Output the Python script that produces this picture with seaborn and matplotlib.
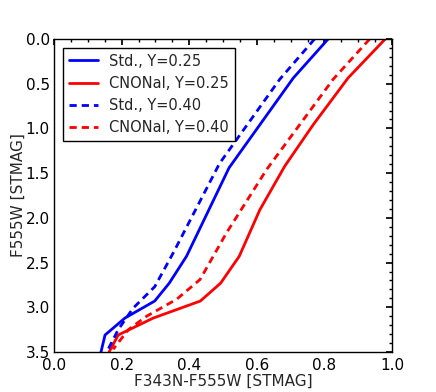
"""
Isochrone lower main sequence: F555W vs F343N-F555W for two abundance mixes
and two helium fractions.
"""
import numpy as np
import pandas as pd
import matplotlib
matplotlib.use("Agg")
import matplotlib.pyplot as plt
from matplotlib.ticker import MultipleLocator
import seaborn as sns

# ── data ──────────────────────────────────────────────────────────────── #
std_y25_color = [0.811, 0.708, 0.518, 0.392, 0.341, 0.298, 0.210, 0.151, 0.139]
std_y25_mag   = [0.000, 0.436, 1.440, 2.430, 2.730, 2.930, 3.120, 3.310, 3.500]

cno_y25_color = [0.980, 0.870, 0.767, 0.683, 0.609, 0.548, 0.493, 0.433, 0.294, 0.190, 0.163]
cno_y25_mag   = [0.000, 0.436, 0.958, 1.420, 1.910, 2.430, 2.730, 2.930, 3.120, 3.310, 3.500]

std_y40_color = [0.771, 0.668, 0.490, 0.353, 0.298, 0.234, 0.190, 0.156]
std_y40_mag   = [0.000, 0.450, 1.390, 2.390, 2.770, 3.010, 3.250, 3.500]

cno_y40_color = [0.934, 0.826, 0.629, 0.510, 0.432, 0.363, 0.274, 0.220, 0.175]
cno_y40_mag   = [0.000, 0.450, 1.460, 2.170, 2.690, 2.910, 3.100, 3.250, 3.470]

labels = ["Std., Y=0.25", "CNONal, Y=0.25", "Std., Y=0.40", "CNONal, Y=0.40"]
series = [(std_y25_color, std_y25_mag), (cno_y25_color, cno_y25_mag),
          (std_y40_color, std_y40_mag), (cno_y40_color, cno_y40_mag)]
colors = ["#0000ff", "#ff0000", "#0000ff", "#ff0000"]
styles = ["-", "-", (0, (2.6, 1.8)), (0, (2.6, 1.8))]

# ── plot ──────────────────────────────────────────────────────────────── #
sns.set_theme(style="white")
plt.rcParams["font.family"] = ["DejaVu Sans"]
plt.rcParams.update({"xtick.direction": "in", "ytick.direction": "in",
                     "xtick.top": True, "ytick.right": True,
                     "xtick.major.size": 4, "ytick.major.size": 4,
                     "xtick.minor.size": 2, "ytick.minor.size": 2,
                     "xtick.major.pad": 4, "ytick.major.pad": 3})

fig = plt.figure(figsize=(4.36, 3.92), dpi=100)
ax = fig.add_axes([54/436, 1 - 352/392, 338/436, 313/392])

for (x, y), lab, c, ls in zip(series, labels, colors, styles):
    df = pd.DataFrame({"color": x, "mag": y})
    sns.lineplot(data=df, x="color", y="mag", sort=False, estimator=None,
                 color=c, linestyle=ls, lw=2, label=lab, ax=ax)

ax.set_xlim(0, 1)
ax.set_ylim(3.5, 0)
ax.xaxis.set_major_locator(MultipleLocator(0.2))
ax.xaxis.set_minor_locator(MultipleLocator(0.05))
ax.yaxis.set_major_locator(MultipleLocator(0.5))
ax.yaxis.set_minor_locator(MultipleLocator(0.1))
ax.tick_params(which="both", colors="black", labelsize=11)
for s in ax.spines.values():
    s.set_color("black")
    s.set_linewidth(1)

ax.set_xlabel("F343N-F555W [STMAG]", fontsize=11, labelpad=1)
ax.set_ylabel("F555W [STMAG]", fontsize=11, labelpad=0)

leg = ax.legend(loc="upper left", fontsize=10.5, fancybox=False,
                edgecolor="black", framealpha=1, borderaxespad=0.6)
leg.get_frame().set_linewidth(1)

fig.savefig("out.png", dpi=100)
